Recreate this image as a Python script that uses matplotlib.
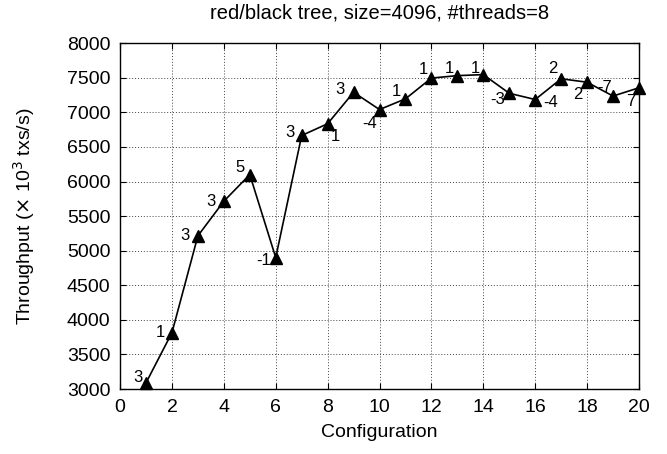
import matplotlib.pyplot as plt

plt.rcParams['font.family'] = ['Liberation Sans', 'DejaVu Sans']

config = list(range(1, 21))
throughput = [3090, 3815, 5215, 5715, 6100, 4900, 6665, 6835, 7290, 7040,
              7195, 7495, 7530, 7545, 7275, 7185, 7485, 7435, 7235, 7355]
labels = ['3', '1', '3', '3', '5', '-1', '3', '1', '3', '-4',
          '1', '1', '1', '1', '-3', '-4', '2', '2', '-7', '7']

# label offsets in pixels relative to each point
offsets = [(-8, 5), (-12, 0), (-13, 0), (-13, 0), (-10, 7), (-12, -3), (-12, 3),
           (8, -13), (-14, 3), (-10, -14), (-9, 7), (-8, 9), (-8, 7), (-8, 6),
           (-12, -6), (15, -3), (-8, 10), (-9, -12), (-8, 9), (-8, -14)]

fig = plt.figure(figsize=(6.67, 4.54), dpi=100)
ax = fig.add_axes([0.180, 0.143, 0.778, 0.762])

ax.plot(config, throughput, color='black', lw=1.2, marker='^', ms=9,
        clip_on=False, zorder=3)
for x, y, t, off in zip(config, throughput, labels, offsets):
    ax.annotate(t, (x, y), xytext=off, textcoords='offset pixels',
                ha='center', va='center', fontsize=12)

ax.set_xlim(0, 20)
ax.set_ylim(3000, 8000)
ax.set_xticks(range(0, 21, 2))
ax.set_yticks(range(3000, 8001, 500))
ax.tick_params(direction='in', top=True, right=True, labelsize=14, length=4)
ax.tick_params(axis='x', pad=7)
ax.tick_params(axis='y', pad=7)
ax.grid(True, color='#444444', linestyle=(0, (1, 2)), linewidth=0.7)
for s in ax.spines.values():
    s.set_linewidth(1.0)

fig.text(0.569, 1 - 13 / 454, 'red/black tree, size=4096, #threads=8',
         fontsize=14.5, ha='center', va='center')
ax.set_xlabel('Configuration', fontsize=14)
ax.set_ylabel('Throughput ($\\times$ 10$^3$ txs/s)', fontsize=14)
ax.xaxis.set_label_coords(0.5, -0.100)
ax.yaxis.set_label_coords(-0.160, 0.5)

fig.savefig('out.png', dpi=100)
